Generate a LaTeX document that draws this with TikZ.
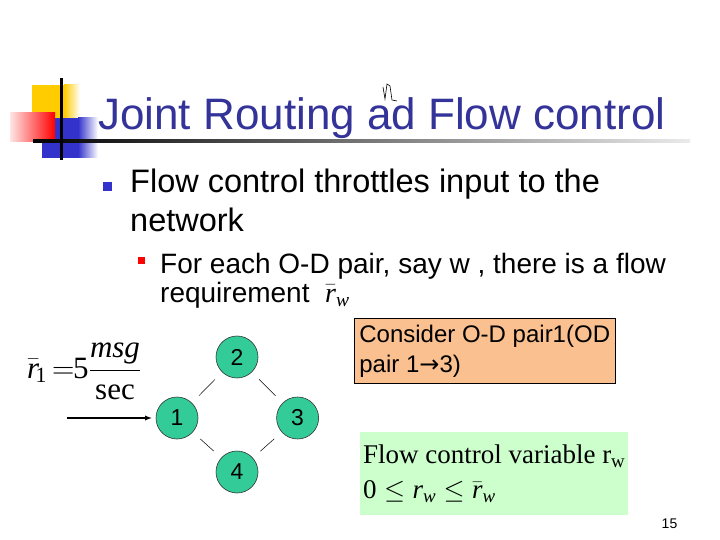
\RequirePackage{fix-cm}
\documentclass[tikz,border=0pt]{standalone}
\usepackage{amsmath}
\usepackage{fontspec}
\setmainfont{Liberation Sans}
\setmathrm{Liberation Serif}
\newfontfamily\timesfont{Liberation Serif}
\newfontfamily\arrowfont{DejaVu Sans}
\usepackage{tikz}
\usetikzlibrary{positioning}

\definecolor{titleblue}{RGB}{51,51,153}
\definecolor{nodegreen}{RGB}{51,204,153}
\definecolor{peach}{RGB}{250,192,144}
\definecolor{mint}{RGB}{204,255,204}
\definecolor{logoyellow}{RGB}{255,204,0}
\definecolor{logoblue}{RGB}{51,51,204}

\newcommand{\rr}{\mathit{r}}
\newcommand{\ww}{\mathit{w}}

\tikzset{
  vertex/.style={circle, draw=black!80, line width=0.6pt, fill=nodegreen,
    minimum size=42pt, inner sep=0pt, font=\fontsize{23}{26}\selectfont},
  link/.style={draw=black, line width=0.5pt, shorten <=10pt, shorten >=10pt},
  linetxt/.style={anchor=base west, inner sep=0pt},
  mathtxt/.style={inner sep=0pt, font=\fontsize{31}{36}\selectfont},
}

\begin{document}
\begin{tikzpicture}[x=1pt, y=-1pt, >=latex]
  \useasboundingbox (0,0) rectangle (720,540);

  % logo squares and title rule
  \fill[logoyellow] (32,85) rectangle (64,118);
  \shade[left color=logoyellow, right color=white] (64,85) rectangle (80,118);
  \fill[logoblue] (42,118) rectangle (78,158);
  \shade[left color=logoblue, right color=white] (78,118) rectangle (98,158);
  \shade[left color=red!10, right color=red] (10,113) rectangle (55,142);
  \shade[left color=black, right color=black!8] (33,139.5) rectangle (690,142.5);
  \fill[black] (59.5,78) rectangle (62.5,160);

  \node[linetxt, text=titleblue, font=\fontsize{44}{50}\selectfont] (title) at (98,130)
    {Joint Routing ad Flow control};
  \draw[line width=0.6pt] (383,87) -- (385,99) -- (387,84) -- (390,86) -- (392,100) -- (397,101);

  % bullets
  \fill[logoblue] (103,182) rectangle (112,191);
  \node[linetxt, font=\fontsize{32.5}{38}\selectfont] (flowa) at (130,193)
    {Flow control throttles input to the};
  \node[linetxt, font=\fontsize{32.5}{38}\selectfont] (flowb) at (130,232) {network};

  \fill[red] (138,257) rectangle (145,264);
  \node[linetxt, font=\fontsize{28}{34}\selectfont] (reqa) at (160,273)
    {For each O-D pair, say w , there is a flow};
  \node[linetxt, font=\fontsize{28}{34}\selectfont] (reqb) at (160,302)
    {requirement \ $\bar{\rr}_{\ww}$};

  % rate
  \node[linetxt, mathtxt] (rbar) at (27,378) {$\bar{\rr}_{\!\mathrm{1}}$};
  \node[linetxt, mathtxt] (eqs) at (52,378) {$=$};
  \node[linetxt, mathtxt] (five) at (73,378) {$\mathrm{5}$};
  \node[mathtxt, anchor=base] (rfrac) at (115,378) {$\dfrac{\mathit{msg}}{\mathrm{sec}}$};

  % network
  \node[vertex] (n1) at (177,418) {1};
  \node[vertex, right=78pt of n1] (n3) {3};
  \node[vertex] (n2) at (237,357) {2};
  \node[vertex] (n4) at (237,472) {4};
  \draw[link] (n1) -- (n2);
  \draw[link] (n2) -- (n3);
  \draw[link] (n1) -- (n4);
  \draw[link] (n4) -- (n3);

  \coordinate (src) at (67,418);
  \draw[->, line width=1.3pt, shorten >=4pt] (src) -- (n1);

  % boxes
  \node[draw=black, line width=0.8pt, fill=peach, anchor=north west, minimum width=259pt,
    minimum height=65pt, inner xsep=5pt, align=left,
    font=\fontsize{24}{30}\selectfont] (odbox) at (354,318)
    {Consider O-D pair1(OD\\pair 1{\arrowfont →}3)};

  \node[fill=mint, anchor=north west, minimum width=268pt, minimum height=83pt,
    inner xsep=2pt, align=left, font=\fontsize{27}{35}\selectfont] (varbox) at (360,432)
    {{\timesfont Flow control variable r}$_{\mathrm{w}}$\\$\mathrm{0}\le \rr_{\ww}\le\bar{\rr}_{\ww}$};

  \node[anchor=base, font=\fontsize{14}{16}\selectfont] (pgnum) at (669.5,528) {15};
\end{tikzpicture}
\end{document}
